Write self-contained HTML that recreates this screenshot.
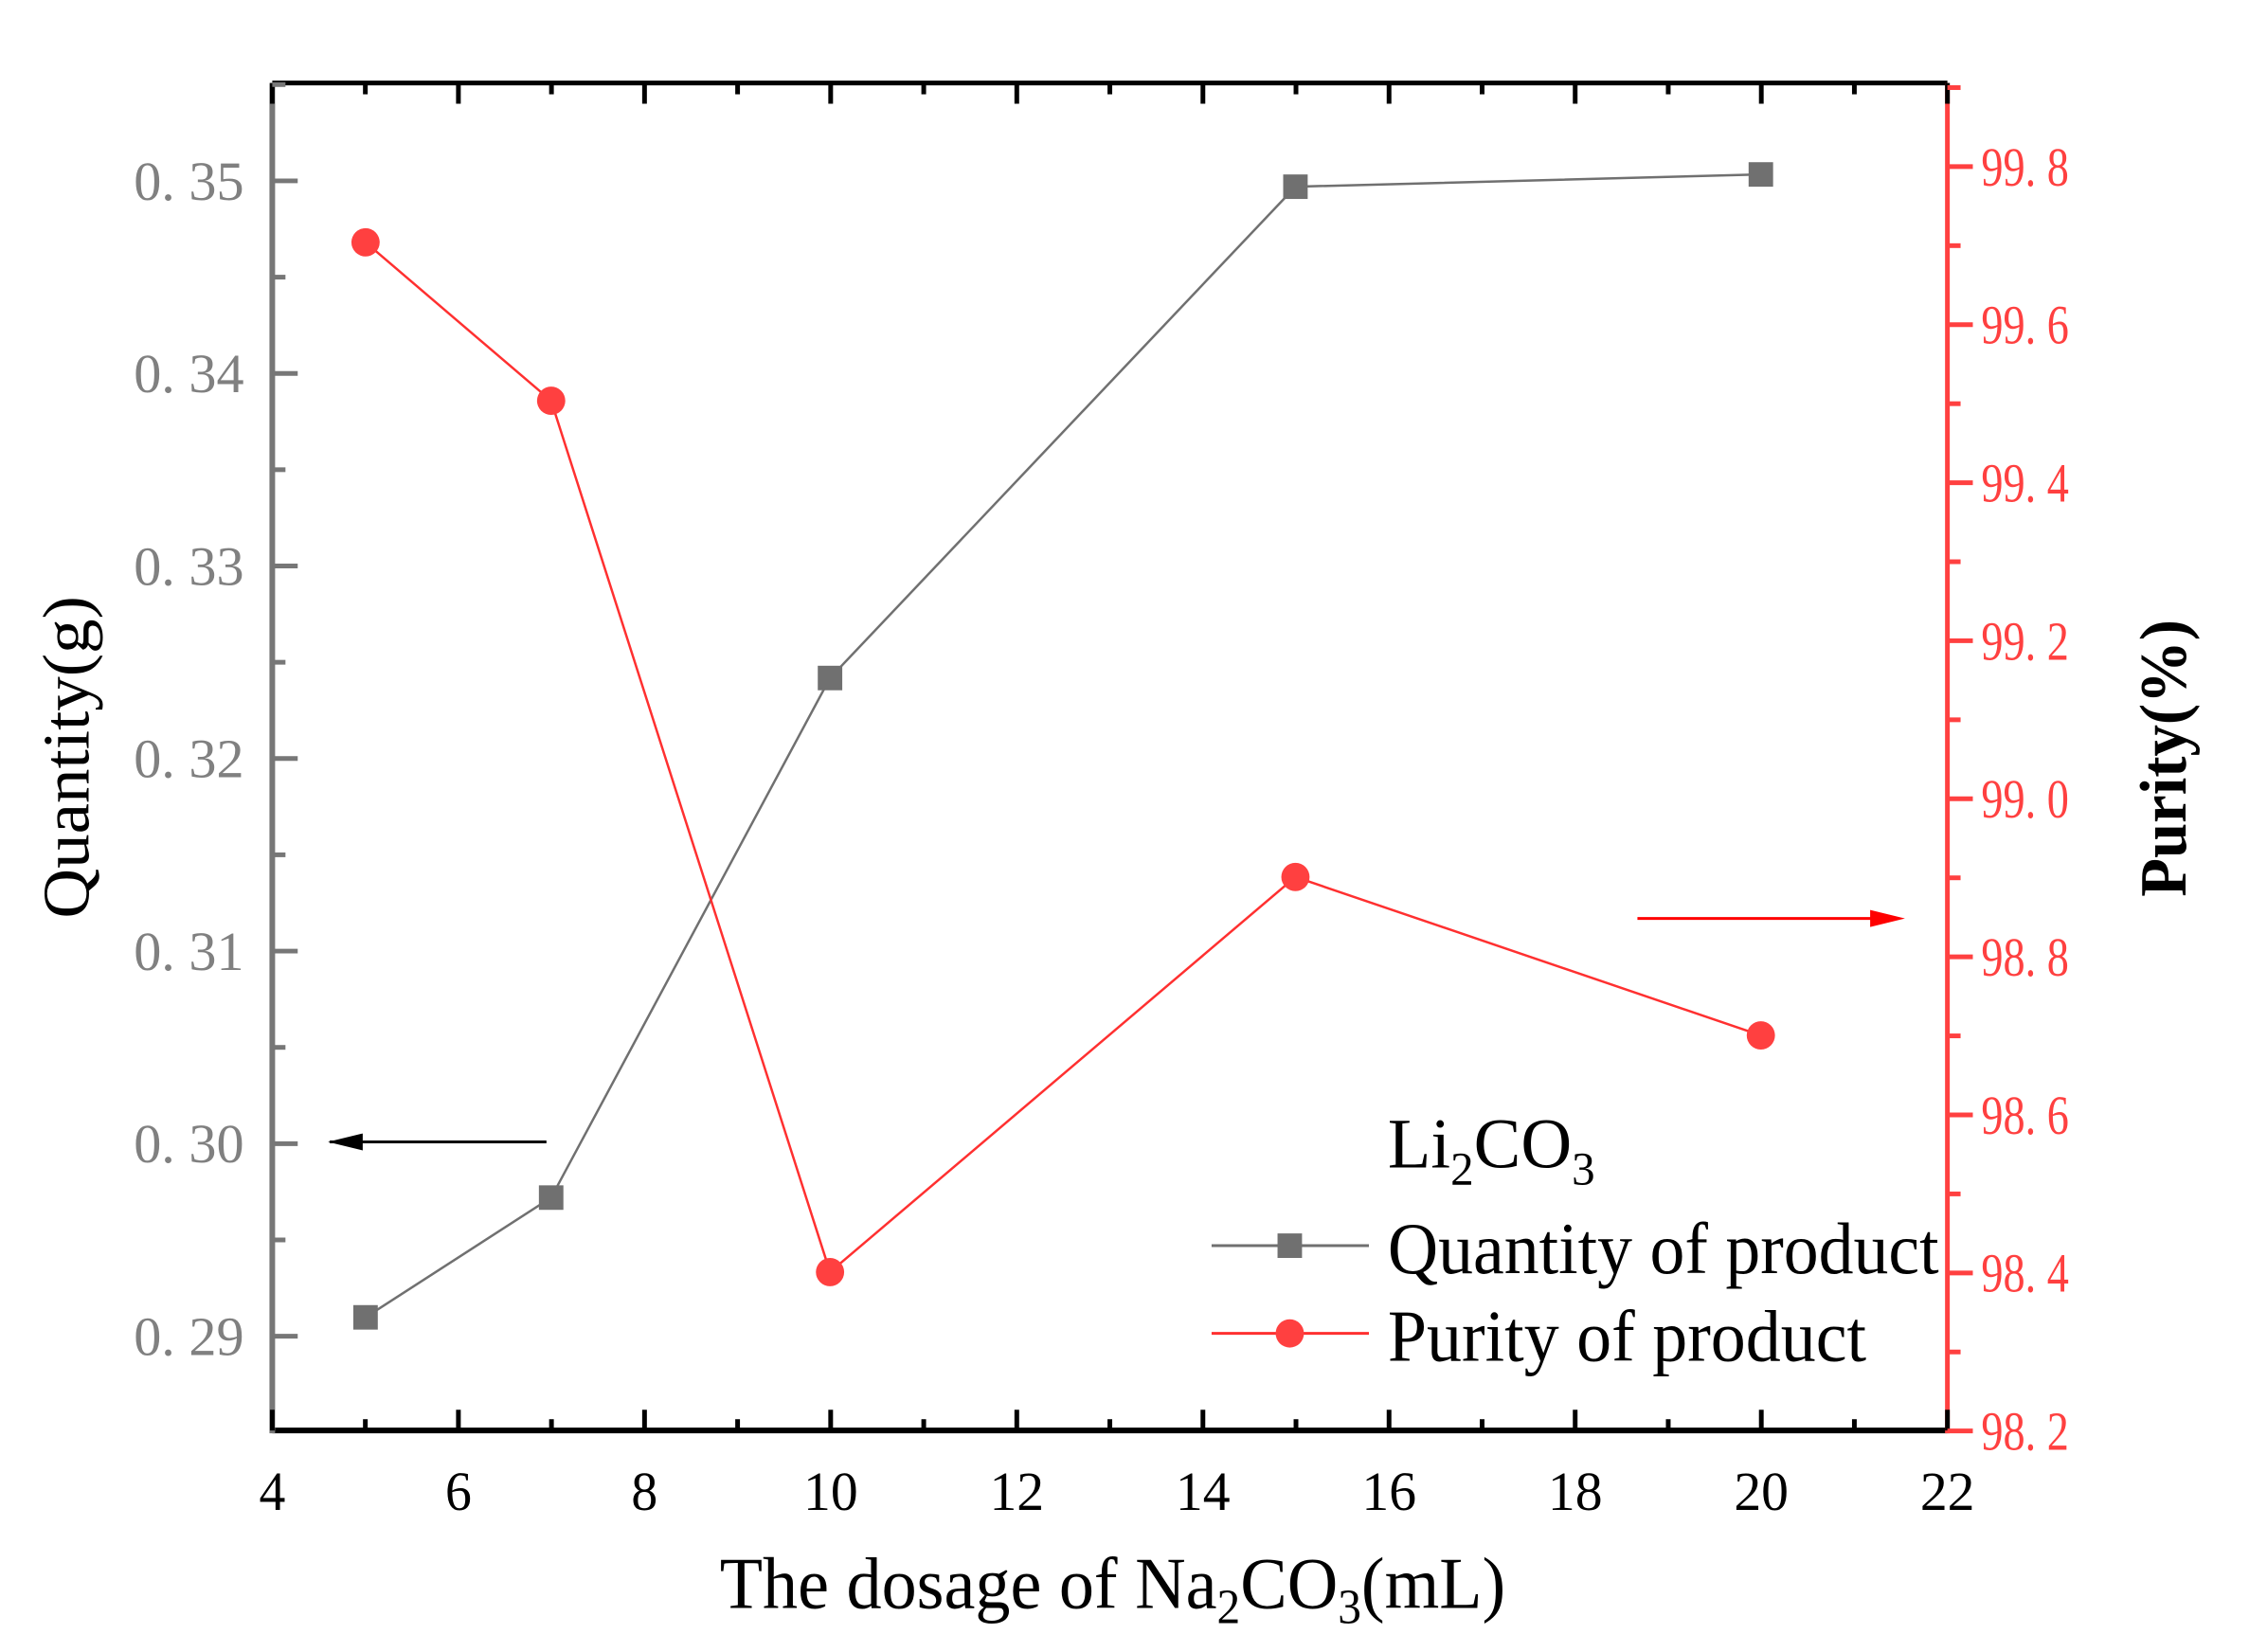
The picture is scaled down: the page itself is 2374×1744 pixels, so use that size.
<!DOCTYPE html>
<html><head><meta charset="utf-8"><style>
html,body{margin:0;padding:0;background:#fff;}
svg{display:block;}
text{font-family:"Liberation Serif",serif;}
</style></head><body>
<svg width="2374" height="1744" viewBox="0 0 2374 1744" xmlns="http://www.w3.org/2000/svg">
<g transform="scale(0.9945,0.9955)">
<line x1="289" y1="88" x2="2067" y2="88" stroke="#000" stroke-width="5"/>
<line x1="289" y1="1517" x2="2067" y2="1517" stroke="#000" stroke-width="6"/>
<line x1="289" y1="88" x2="289" y2="1520" stroke="#777" stroke-width="6"/>
<line x1="2067" y1="88" x2="2067" y2="1520" stroke="#ff4040" stroke-width="5"/>
<g id="xt" stroke="#000" stroke-width="5"></g>
<g id="lt" stroke="#777" stroke-width="5"></g>
<g id="rt" stroke="#ff4040" stroke-width="5"></g>
<g id="labels"></g>
<polyline points="388,1397 585,1270 881,719 1375,198 1869,185" fill="none" stroke="#707070" stroke-width="2.5"/>
<polyline points="388,257 585,425 881,1349 1375,930 1869,1098" fill="none" stroke="#ff3030" stroke-width="2.5"/>
<g fill="#707070">
<rect x="375" y="1384" width="26" height="26"/><rect x="572" y="1257" width="26" height="26"/><rect x="868" y="706" width="26" height="26"/><rect x="1362" y="185" width="26" height="26"/><rect x="1856" y="172" width="26" height="26"/>
</g>
<g fill="#ff4040">
<circle cx="388" cy="257" r="15"/><circle cx="585" cy="425" r="15"/><circle cx="881" cy="1349" r="15"/><circle cx="1375" cy="930" r="15"/><circle cx="1869" cy="1098" r="15"/>
</g>
<line x1="580" y1="1211" x2="350" y2="1211" stroke="#000" stroke-width="3"/>
<path d="M348,1211 L385,1202 L385,1220z" fill="#000"/>
<line x1="1738" y1="974" x2="2000" y2="974" stroke="#ff0000" stroke-width="3"/>
<path d="M2022,974 L1985,965 L1985,983z" fill="#ff0000"/>
<text x="1473" y="1238" font-size="76" textLength="220" lengthAdjust="spacingAndGlyphs">Li<tspan font-size="50" dy="18">2</tspan><tspan dy="-18">CO</tspan><tspan font-size="50" dy="18">3</tspan></text>
<line x1="1286" y1="1321" x2="1453" y2="1321" stroke="#707070" stroke-width="3"/>
<rect x="1356" y="1308" width="26" height="26" fill="#707070"/>
<text x="1473" y="1350" font-size="78" textLength="585" lengthAdjust="spacingAndGlyphs">Quantity of product</text>
<line x1="1286" y1="1414" x2="1453" y2="1414" stroke="#ff3030" stroke-width="3"/>
<circle cx="1369" cy="1414" r="15" fill="#ff4040"/>
<text x="1473" y="1443" font-size="78" textLength="508" lengthAdjust="spacingAndGlyphs">Purity of product</text>
<text x="764" y="1705" font-size="78" textLength="834" lengthAdjust="spacingAndGlyphs">The dosage of Na<tspan font-size="52" dy="16">2</tspan><tspan dy="-16">CO</tspan><tspan font-size="52" dy="16">3</tspan><tspan dy="-16">(mL)</tspan></text>
<text transform="translate(94,974) rotate(-90)" font-size="70" textLength="342" lengthAdjust="spacingAndGlyphs">Quantity(g)</text>
<text transform="translate(2320,951) rotate(-90)" font-size="70" font-weight="bold" textLength="294" lengthAdjust="spacingAndGlyphs">Purity(%)</text>
</g>
</svg>
<script>
var ns="http://www.w3.org/2000/svg";
function L(g,x1,y1,x2,y2){var l=document.createElementNS(ns,"line");l.setAttribute("x1",x1);l.setAttribute("y1",y1);l.setAttribute("x2",x2);l.setAttribute("y2",y2);document.getElementById(g).appendChild(l);}
function T(x,y,s,fill,anchor,len){var t=document.createElementNS(ns,"text");t.setAttribute("x",x);t.setAttribute("y",y);t.setAttribute("font-size",58);t.setAttribute("fill",fill);t.setAttribute("text-anchor",anchor);t.setAttribute("textLength",len);t.setAttribute("lengthAdjust","spacingAndGlyphs");t.textContent=s;document.getElementById("labels").appendChild(t);}
for(var i=0;i<=18;i++){var x=289+i*98.78;var len=(i%2==0)?22:12;L("xt",x,1517,x,1517-len);L("xt",x,88,x,88+len);
 if(i%2==0){var v=4+i;T(x,1601,String(v),"#000","middle",v>=10?58:28);}}
for(var j=-2;j<=13;j++){var y=1417-j*102.1;if(y<88||y>1517)continue;var maj=(j%2==0);L("lt",289,y,289+(maj?27:14),y);
 if(maj){var v=(0.29+j*0.005).toFixed(2);T(259,y+20,v.replace(".",". "),"#808080","end",117);}}
for(var m=0;m<=17;m++){var y=1517.5-m*83.8;if(y<88)continue;var maj=(m%2==0);L("rt",2067,y,2067+(maj?27:14),y);
 if(maj){var v=(98.2+m*0.1).toFixed(1);T(2103,y+20,v.replace(".",". "),"#ff4040","start",93);}}
</script>
</body></html>
